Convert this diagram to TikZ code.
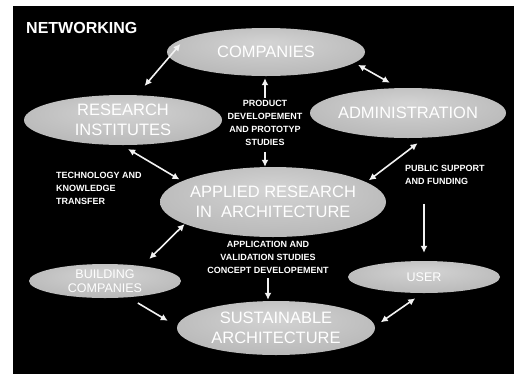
\documentclass[tikz,border=0pt]{standalone}
\usepackage{fontspec}
\setmainfont{Liberation Sans}
\usetikzlibrary{shapes.geometric,arrows.meta}

\pgfdeclareradialshading{orbshade}{\pgfpoint{0bp}{10bp}}{color(0bp)=(black!17); color(28bp)=(black!27); color(50bp)=(black!44)}

\begin{document}
\begin{tikzpicture}[x=1pt,y=-1pt,
	bubble/.style={ellipse, inner sep=0pt, shading=orbshade},
	bubtext/.style={text=white, align=center, font=\fontsize{16.5}{19.5}\selectfont},
	smalltext/.style={text=white, align=center, font=\fontsize{12.5}{14}\selectfont},
	note/.style={text=white, font=\bfseries\fontsize{9}{13}\selectfont, inner sep=2pt},
	link/.style={draw=white!95!black, line width=1.6pt, {Latex[length=7pt,width=7pt]}-{Latex[length=7pt,width=7pt]}},
	flow/.style={draw=white!95!black, line width=1.6pt, -{Latex[length=7pt,width=7pt]}}]
	\useasboundingbox (0,0) rectangle (517,376);
	\fill[white] (0,0) rectangle (517,376);
	\fill[black] (13,6) rectangle (514,374);

	\node[anchor=west, inner sep=0pt, text=white, font=\bfseries\fontsize{16}{18}\selectfont] (title) at (26,28) {NETWORKING};

	% Ellipses
	\node[bubble, minimum width=198pt, minimum height=48pt, label={[bubtext]center:COMPANIES}] (companies) at (266,52) {};
	\node[bubble, minimum width=198pt, minimum height=50pt, label={[bubtext]center:RESEARCH\\INSTITUTES}] (research) at (123,120) {};
	\node[bubble, minimum width=196pt, minimum height=50pt, label={[bubtext]center:ADMINISTRATION}] (admin) at (408,113) {};
	\node[bubble, minimum width=226pt, minimum height=70pt, label={[bubtext]center:APPLIED RESEARCH\\IN\ \ ARCHITECTURE}] (applied) at (273,202) {};
	\node[bubble, minimum width=152pt, minimum height=34pt, label={[smalltext]center:BUILDING\\COMPANIES}] (building) at (105,281) {};
	\node[bubble, minimum width=152pt, minimum height=32pt, label={[smalltext]center:USER}] (user) at (424,277) {};
	\node[bubble, minimum width=198pt, minimum height=54pt, label={[bubtext]center:SUSTAINABLE\\ARCHITECTURE}] (sustainable) at (276,328) {};

	% Notes
	\node[note, align=center] (product) at (265,122.5) {PRODUCT\\DEVELOPEMENT\\AND PROTOTYP\\STUDIES};
	\node[note, align=left, anchor=west] (transfer) at (54,188) {TECHNOLOGY AND\\KNOWLEDGE\\TRANSFER};
	\node[note, align=left, anchor=west] (funding) at (403,175) {PUBLIC SUPPORT\\AND FUNDING};
	\node[note, align=center] (application) at (268,257.5) {APPLICATION AND\\VALIDATION STUDIES\\CONCEPT DEVELOPEMENT};

	% Arrows
	\draw[link, shorten <=12pt, shorten >=8pt] (research.61) -- (companies.170);
	\draw[link, shorten <=4pt, shorten >=10.5pt] (companies.353) -- (admin.110);
	\draw[flow, shorten >=2pt] (product.north) -- (product.north |- companies.south);
	\draw[flow, shorten <=4.5pt] (product.south) -- (product.south |- applied.north);
	\draw[link, shorten <=7.5pt, shorten >=3pt] (research.267) -- (applied.167.6);
	\draw[link, shorten <=9pt, shorten >=3pt] (admin.304.6) -- (applied.12.3);
	\draw[link, shorten >=10pt] (applied.194) -- (building.22.8);
	\draw[flow, shorten <=11pt, shorten >=10.7pt] (building.325) -- (sustainable.179);
	\draw[link, shorten <=9pt, shorten >=7pt] (user.265) -- (sustainable.1.9);
	\draw[flow, shorten <=17pt, shorten >=8pt] (funding.south -| user.north) -- (user.north);
	\draw[flow, shorten <=2pt, shorten >=1pt] (application.south) -- (application.south |- sustainable.north);
\end{tikzpicture}
\end{document}
